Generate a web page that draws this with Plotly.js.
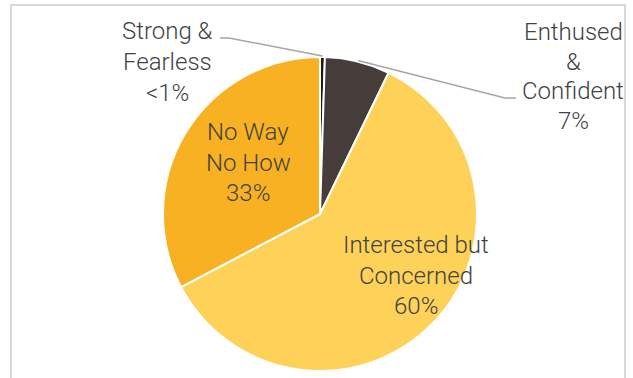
<!DOCTYPE html>
<html><head><meta charset="utf-8">
<script src="https://cdn.plot.ly/plotly-3.0.1.min.js"></script>
<style>html,body{margin:0;padding:0;background:#fff;overflow:hidden}</style>
</head><body><div id="chart" style="width:633px;height:378px"></div>
<script>
// ---- data ----
const categories = ["Strong & Fearless", "Enthused & Confident", "Interested but Concerned", "No Way No How"];
const values = [0.5, 6.7, 60.1, 32.7];
const pctLabels = ["<1%", "7%", "60%", "33%"];
const labelLines = [["Strong &", "Fearless"], ["Enthused", "&", "Confident"], ["Interested but", "Concerned"], ["No Way", "No How"]];
const colors = ["#1c1918", "#463c3a", "#fed259", "#f8b122"];

// ---- layout geometry ----
const W = 633, H = 378;
const cx = 320, cy = 214, R = 157;
const px2x = p => p / W;
const py2y = p => 1 - p / H;

// label blocks: centre x, first line centre y, line step (pixels)
const labelPos = [[167, 31, 31], [573, 32, 29.7], [416, 245, 30.5], [248, 132, 30.5]];
// leader elbows for outside labels: [elbowX, elbowY, endX]
const leaders = {0: [229, 38, 220], 1: [505, 98, 516]};

const total = values.reduce((a, b) => a + b, 0);
let cum = 0;
const midAngles = values.map(v => { const m = (cum + v / 2) / total * 2 * Math.PI; cum += v; return m; });

const font = {family: "Roboto, 'DejaVu Sans', sans-serif", size: 24, color: "#424242", weight: 300};

const annotations = [];
categories.forEach((c, i) => {
  const lines = labelLines[i].concat([pctLabels[i]]);
  const [lx, ly, step] = labelPos[i];
  lines.forEach((t, j) => annotations.push({
    x: px2x(lx), y: py2y(ly + j * step), xref: "paper", yref: "paper",
    xanchor: "center", yanchor: "middle", align: "center", showarrow: false,
    text: t, font: font
  }));
});

const shapes = [{
  type: "rect", xref: "paper", yref: "paper",
  x0: px2x(11), x1: px2x(625), y0: py2y(390), y1: py2y(5),
  line: {color: "#d9d9d9", width: 2}, fillcolor: "rgba(0,0,0,0)", layer: "below"
}];
Object.keys(leaders).forEach(k => {
  const i = +k, a = midAngles[i];
  const ex = cx + (R + 1) * Math.sin(a), ey = cy - (R + 1) * Math.cos(a);
  const [bx, by, tx] = leaders[k];
  const ln = {color: "#a6a6a6", width: 1.5};
  shapes.push({type: "line", xref: "paper", yref: "paper", x0: px2x(ex), y0: py2y(ey), x1: px2x(bx), y1: py2y(by), line: ln});
  shapes.push({type: "line", xref: "paper", yref: "paper", x0: px2x(bx), y0: py2y(by), x1: px2x(tx), y1: py2y(by), line: ln});
});

const trace = {
  type: "pie", labels: categories, values: values, sort: false, direction: "clockwise", rotation: 0,
  marker: {colors: colors, line: {color: "#ffffff", width: 2}},
  textinfo: "none", hoverinfo: "label+percent",
  domain: {x: [px2x(cx - R), px2x(cx + R)], y: [py2y(cy + R), py2y(cy - R)]}
};

Plotly.newPlot("chart", [trace], {
  width: W, height: H, margin: {l: 0, r: 0, t: 0, b: 0}, showlegend: false,
  paper_bgcolor: "#ffffff", plot_bgcolor: "#ffffff",
  annotations: annotations, shapes: shapes
}, {displayModeBar: false, staticPlot: true});
</script></body></html>
